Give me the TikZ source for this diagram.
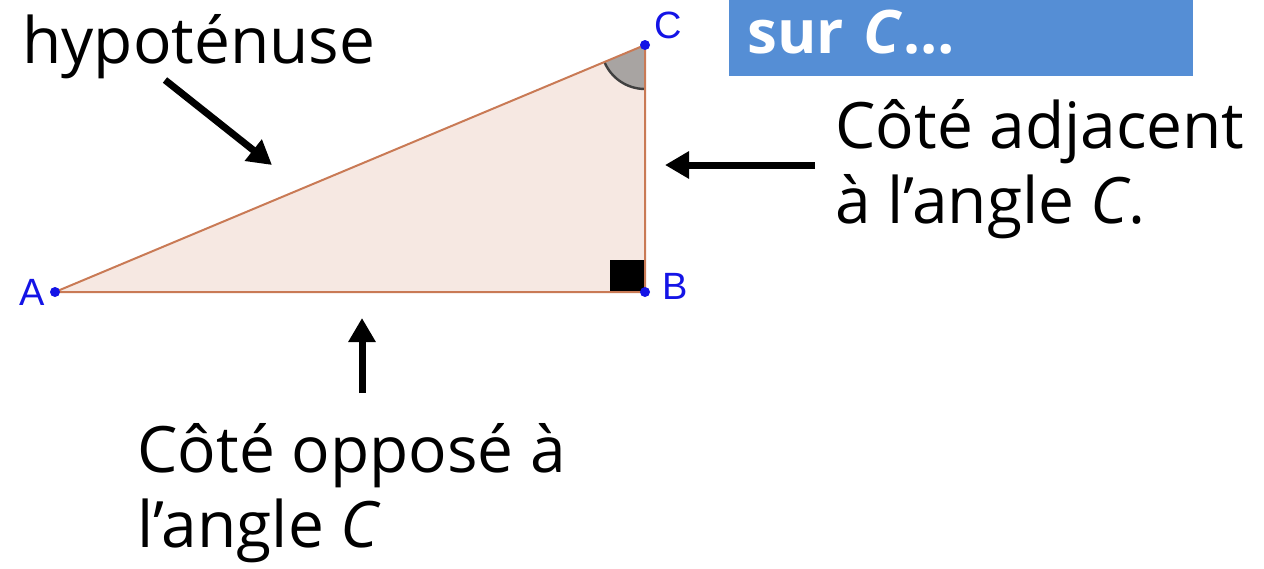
\documentclass[tikz,border=0pt]{standalone}
\usepackage{fontspec}
\setmainfont{Open Sans}
\newfontfamily\ptfont{Liberation Sans}
\usepackage{tikz}
\usetikzlibrary{positioning, arrows.meta}
\definecolor{fondTri}{HTML}{F6E8E2}
\definecolor{bordTri}{HTML}{C97A55}
\definecolor{bleuPt}{HTML}{1414E6}
\definecolor{bleuTitre}{HTML}{558ED5}
\definecolor{grisAngle}{HTML}{A8A4A2}

\begin{document}
\begin{tikzpicture}[
  x=0.5pt, y=0.5pt,
  fleche/.style={-{Triangle[length=12pt, width=13pt]}, line width=3.5pt, black},
  cote/.style={inner sep=0pt, align=left, font=\fontsize{32}{37.5}\selectfont},
  sommet/.style={text=bleuPt, inner sep=0pt, font=\ptfont\fontsize{19}{19}\selectfont},
  titre/.style={fill=bleuTitre, text=white, inner xsep=9pt, inner ysep=0pt,
    text width=214pt, align=left, text height=26.5pt, text depth=11.5pt,
    font=\bfseries\fontsize{30}{30}\selectfont}
]
  \useasboundingbox (0,0) rectangle (1264,-568);

  % --- Sommets ---
  \coordinate (A) at (55,-292);
  \coordinate (B) at (645,-292);
  \coordinate (C) at (645,-45);

  % --- Triangle rectangle en B ---
  \fill[fondTri] (A) -- (B) -- (C) -- cycle;
  \fill[grisAngle] (C) -- ++(202.76:44) arc[start angle=202.76, end angle=270, radius=44] -- cycle;
  \draw[black!75, line width=1.2pt] (C) ++(202.76:44) arc[start angle=202.76, end angle=270, radius=44];
  \fill[black] (610,-260) rectangle (B);
  \draw[bordTri, line width=1pt] (A) -- (B) -- (C) -- cycle;

  \foreach \p in {A, B, C}
    \fill[bleuPt] (\p) circle[radius=5];
  \node[sommet] (labA) at (32,-292) {A};
  \node[sommet] (labB) at (675,-286) {B};
  \node[sommet] (labC) at (668,-25) {C};

  % --- Bandeau ---
  \node[titre, anchor=north west] (titre) at (729,0) {sur \textit{C}…};

  % --- Légendes (base = dernière ligne) ---
  \node[cote, anchor=base west] (hyp) at (22,-63) {hypoténuse};
  \node[cote, anchor=base west] (adj) at (835,-223) {Côté adjacent\\à l’angle \textit{C}.};
  \node[cote, anchor=base west] (opp) at (137,-547) {Côté opposé à\\l’angle \textit{C}};

  % --- Flèches ---
  \coordinate (hypQueue) at (165,-80);
  \coordinate (hypPointe) at (272,-165);
  \coordinate (adjQueue) at (815,-165);
  \coordinate (adjPointe) at (665,-165);
  \coordinate (oppQueue) at (362,-393);
  \coordinate (oppPointe) at (362,-318);
  \draw[fleche] (hypQueue) -- (hypPointe);
  \draw[fleche] (adjQueue) -- (adjPointe);
  \draw[fleche] (oppQueue) -- (oppPointe);
\end{tikzpicture}
\end{document}
